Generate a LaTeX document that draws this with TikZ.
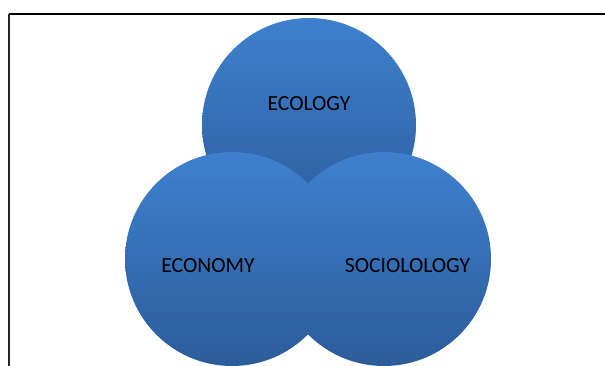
\documentclass[tikz,border=0pt]{standalone}
\usepackage{fontspec}
\setmainfont{Carlito}
\definecolor{vtop}{HTML}{3E80CE}
\definecolor{vbot}{HTML}{2C5C9A}
\tikzset{
  venn/.style={circle, minimum size=214*0.75pt, inner sep=0pt, top color=vtop, bottom color=vbot, draw=none},
  lbl/.style={font=\fontsize{16.2}{19}\selectfont, text=black, inner sep=0pt, anchor=center}
}
\begin{document}
\begin{tikzpicture}[x=0.75pt,y=-0.75pt]
\useasboundingbox (0,0) rectangle (605,365);
\clip (0,0) rectangle (605,365);
\fill[white] (0,0) rectangle (605,365);
\node[venn] (ecol) at (309,125) {};
\node[venn] (econ) at (232,259) {};
\node[venn] (soc) at (384,259) {};
\node[lbl] (tecol) at (309,104) {ECOLOGY};
\node[lbl] (tecon) at (208,266) {ECONOMY};
\node[lbl] (tsoc) at (407.5,266) {SOCIOLOLOGY};
\coordinate (ftl) at (9,14.3);
\coordinate (ftr) at (610,14.3);
\coordinate (fbl) at (9,370);
\draw[line width=1.6pt, black] (ftl) -- (ftr);
\draw[line width=1.2pt, black!85] (ftl) -- (fbl);
\end{tikzpicture}
\end{document}
